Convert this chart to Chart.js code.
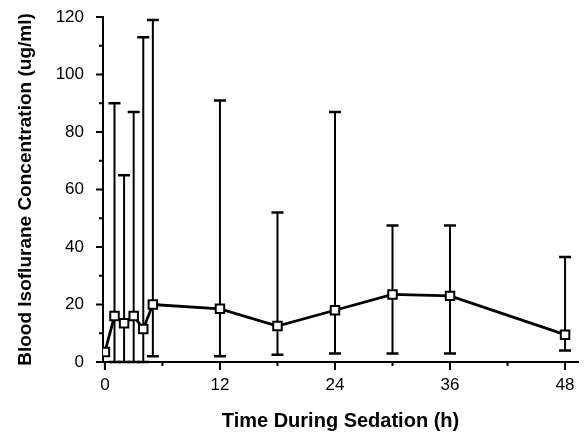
<!DOCTYPE html>
<html>
<head>
<meta charset="utf-8">
<script src="https://cdn.jsdelivr.net/npm/chart.js@4.4.0/dist/chart.umd.min.js"></script>
<style>
  html, body { margin: 0; padding: 0; background: #fff; }
  #wrap { width: 586px; height: 436px; }
</style>
</head>
<body>
<div id="wrap"><canvas id="chart"></canvas></div>
<script>
// Values
const hours = [0, 1, 2, 3, 4, 5, 12, 18, 24, 30, 36, 48];
const meanConc = [3.5, 16, 13.5, 16, 11.5, 20, 18.5, 12.5, 18, 23.5, 23, 9.5];
const upperConc = [null, 90, 65, 87, 113, 119, 91, 52, 87, 47.5, 47.5, 36.5];
const lowerConc = [null, 0, 0, 0, 0, 2, 2, 2.5, 3, 3, 3, 4];
const xMajorTicks = [0, 12, 24, 36, 48];
const xMinorTicks = [6, 18, 30, 42];
const yMajorTicks = [0, 20, 40, 60, 80, 100, 120];
const yMinorTicks = [10, 30, 50, 70, 90, 110];

// error bars go under the squares
const errorBars = {
  id: 'errorBars',
  beforeDatasetsDraw(chart) {
    const ctx = chart.ctx;
    const x = chart.scales.x, y = chart.scales.y;
    ctx.save();
    ctx.strokeStyle = '#000';
    hours.forEach((h, i) => {
      if (upperConc[i] == null) return;
      const px = x.getPixelForValue(h);
      const top = y.getPixelForValue(upperConc[i]);
      const bot = y.getPixelForValue(lowerConc[i]);
      ctx.lineWidth = 2;
      ctx.beginPath();
      ctx.moveTo(px, top);
      ctx.lineTo(px, bot);
      ctx.stroke();
      ctx.lineWidth = 2.5;
      ctx.beginPath();
      ctx.moveTo(px - 6, top); ctx.lineTo(px + 6, top);
      ctx.moveTo(px - 6, bot); ctx.lineTo(px + 6, bot);
      ctx.stroke();
    });
    ctx.restore();
  }
};

// outward tick marks, long for labelled ticks and short for the others
const tickMarks = {
  id: 'tickMarks',
  afterDraw(chart) {
    const ctx = chart.ctx;
    const x = chart.scales.x, y = chart.scales.y;
    const area = chart.chartArea;
    ctx.save();
    ctx.strokeStyle = '#000';
    ctx.lineWidth = 2;
    ctx.beginPath();
    xMajorTicks.forEach(v => { const p = x.getPixelForValue(v); ctx.moveTo(p, area.bottom); ctx.lineTo(p, area.bottom + 8); });
    xMinorTicks.forEach(v => { const p = x.getPixelForValue(v); ctx.moveTo(p, area.bottom); ctx.lineTo(p, area.bottom + 4); });
    yMajorTicks.forEach(v => { const p = y.getPixelForValue(v); ctx.moveTo(area.left, p); ctx.lineTo(area.left - 7, p); });
    yMinorTicks.forEach(v => { const p = y.getPixelForValue(v); ctx.moveTo(area.left, p); ctx.lineTo(area.left - 4, p); });
    ctx.stroke();
    ctx.restore();
  }
};

// fixed axis boxes, no extra room for overhanging labels
function fixBox(s, size) {
  if (s.isHorizontal()) s.height = size; else s.width = size;
  s.paddingLeft = 0; s.paddingRight = 0; s.paddingTop = 0; s.paddingBottom = 0;
}

const ctx = document.getElementById('chart').getContext('2d');
new Chart(ctx, {
  type: 'line',
  data: {
    datasets: [{
      data: hours.map((h, i) => ({ x: h, y: meanConc[i] })),
      borderColor: '#000',
      borderWidth: 2.8,
      pointStyle: 'rect',
      pointRadius: 6,
      pointBorderWidth: 2,
      pointBackgroundColor: '#fff',
      pointBorderColor: '#000',
      tension: 0,
      fill: false
    }]
  },
  options: {
    responsive: true,
    maintainAspectRatio: false,
    animation: false,
    layout: { padding: { top: 17, right: 6, left: 0, bottom: 0 } },
    plugins: { legend: { display: false }, tooltip: { enabled: false } },
    scales: {
      x: {
        type: 'linear',
        min: -0.2,
        max: 49.35,
        afterBuildTicks: s => { s.ticks = xMajorTicks.map(v => ({ value: v })); },
        afterFit: s => fixBox(s, 74),
        grid: { drawOnChartArea: false, drawTicks: false },
        border: { color: '#000', width: 2 },
        ticks: { color: '#000', padding: 13, maxRotation: 0, font: { family: 'Liberation Sans', size: 17 } },
        title: {
          display: true,
          text: 'Time During Sedation (h)',
          color: '#000',
          padding: { top: 4, bottom: 3 },
          font: { family: 'Liberation Sans', size: 20, weight: 'bold' }
        }
      },
      y: {
        min: 0,
        max: 120,
        afterBuildTicks: s => { s.ticks = yMajorTicks.map(v => ({ value: v })); },
        afterFit: s => fixBox(s, 103),
        grid: { drawOnChartArea: false, drawTicks: false },
        border: { color: '#000', width: 2 },
        ticks: { color: '#000', padding: 19, font: { family: 'Liberation Sans', size: 17 } },
        title: {
          display: true,
          text: 'Blood Isoflurane Concentration (ug/ml)',
          color: '#000',
          padding: { top: 14, bottom: 4 },
          font: { family: 'Liberation Sans', size: 19, weight: 'bold' }
        }
      }
    }
  },
  plugins: [errorBars, tickMarks]
});
</script>
</body>
</html>
